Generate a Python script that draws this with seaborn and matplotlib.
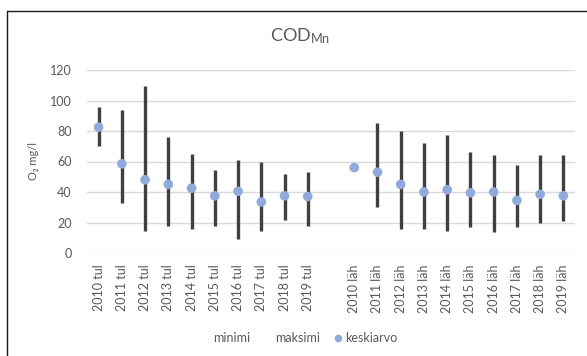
import numpy as np
import pandas as pd
import matplotlib
matplotlib.use("Agg")
import matplotlib.pyplot as plt
from matplotlib.lines import Line2D
import seaborn as sns

# COD_Mn summary statistics per year: inflow (tul) and outflow (läh)
years = ["2010", "2011", "2012", "2013", "2014", "2015", "2016", "2017", "2018", "2019"]

tul_min = [70, 33, 14.5, 18, 16, 18, 9.5, 14.5, 21.5, 18]
tul_max = [96, 94, 109.5, 76, 65, 54.5, 61, 60, 52, 53]
tul_mean = [82.5, 58.5, 48, 45, 42.5, 37.5, 40.5, 33.5, 37.5, 37]

lah_min = [56, 30, 16, 16, 14.5, 17, 13.5, 17, 20, 21]
lah_max = [56, 85.5, 80, 72, 77.5, 66.5, 64, 57.5, 64, 64.5]
lah_mean = [56, 53, 45, 40, 41.5, 39.5, 40, 34.5, 38.5, 37.5]

labels = [f"{y} tul" for y in years] + [""] + [f"{y} läh" for y in years]
minimi = tul_min + [np.nan] + lah_min
maksimi = tul_max + [np.nan] + lah_max
keskiarvo = tul_mean + [np.nan] + lah_mean

df = pd.DataFrame({
    "pos": np.arange(len(labels)),
    "label": labels,
    "minimi": minimi,
    "maksimi": maksimi,
    "keskiarvo": keskiarvo,
})

sns.set_theme(style="white")
plt.rcParams["font.family"] = ["Lato", "DejaVu Sans"]
plt.rcParams["mathtext.default"] = "regular"

text_col = "#595959"
fig = plt.figure(figsize=(5.87, 3.56), dpi=100)
ax = fig.add_axes([87 / 587, 1 - 253 / 356, (575 - 87) / 587, (253 - 70) / 356])

# high-low lines
ax.vlines(df["pos"], df["minimi"], df["maksimi"], color="#404040", linewidth=2.4, zorder=2)
# mean markers
sns.scatterplot(data=df, x="pos", y="keskiarvo", ax=ax, color="#8FAADC", s=48,
                edgecolor="none", zorder=3, legend=False)

ax.set_xlim(-0.5, len(labels) - 0.5)
ax.set_ylim(0, 120)
ax.set_yticks(np.arange(0, 121, 20))
ax.set_xticks(df["pos"])
ax.set_xticklabels(df["label"], rotation=90)
ax.tick_params(axis="x", length=0, pad=8, labelsize=9, labelcolor=text_col)
ax.tick_params(axis="y", length=0, pad=11, labelsize=9, labelcolor=text_col)
ax.set_xlabel("")
ax.set_ylabel("O₂ mg/l", fontsize=8, color=text_col, labelpad=8)
ax.yaxis.grid(True, color="#D9D9D9", linewidth=1.0)
ax.set_axisbelow(True)
for sp in ax.spines.values():
    sp.set_visible(False)

fig.text(300 / 587, 1 - 36 / 356, "COD$_{Mn}$", ha="center", va="center",
         fontsize=13, color=text_col)

handles = [
    Line2D([], [], linestyle="none"),
    Line2D([], [], linestyle="none"),
    Line2D([], [], linestyle="none", marker="o", markersize=5.5,
           markerfacecolor="#8FAADC", markeredgecolor="none"),
]
fig.legend(handles, ["minimi", "maksimi", "keskiarvo"], loc="center",
           bbox_to_anchor=(300 / 587, 1 - 338 / 356), ncol=3, frameon=False,
           fontsize=9, labelcolor=text_col, handlelength=0.6, handletextpad=0.3,
           columnspacing=1.1)

# chart border (top and left edges)
fig.add_artist(Line2D([7 / 587, 1], [1 - 10.5 / 356, 1 - 10.5 / 356],
                      transform=fig.transFigure, color="#1a1a1a", linewidth=1.0))
fig.add_artist(Line2D([7 / 587, 7 / 587], [0, 1 - 10.5 / 356],
                      transform=fig.transFigure, color="#1a1a1a", linewidth=1.0))

fig.savefig("out.png", dpi=100)
